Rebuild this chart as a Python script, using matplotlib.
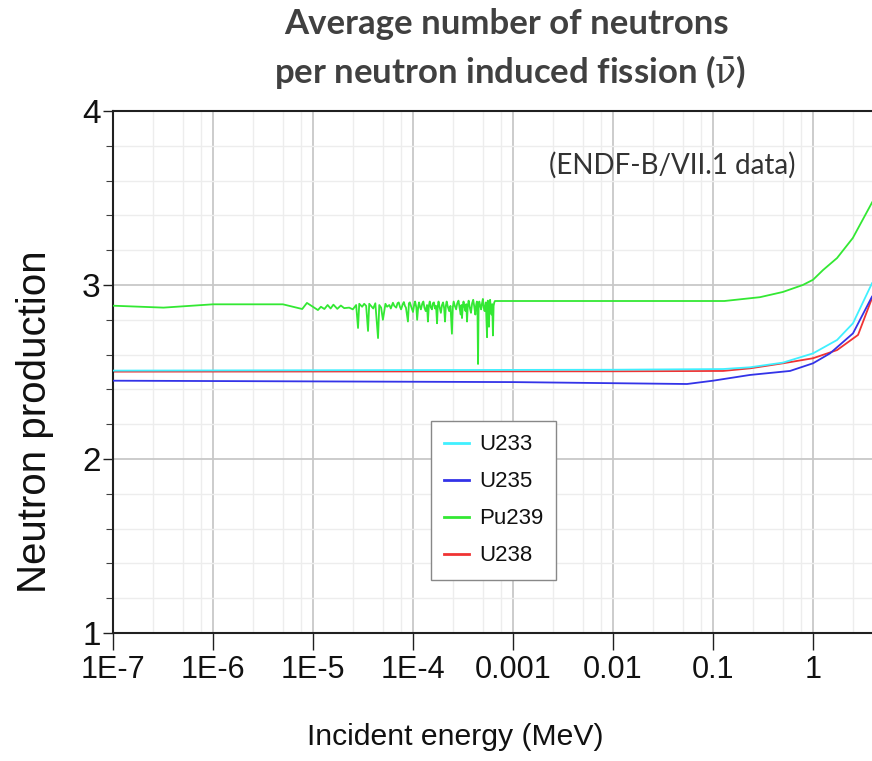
import matplotlib
matplotlib.use("Agg")
import matplotlib.pyplot as plt
from matplotlib.ticker import FixedLocator, FixedFormatter, NullFormatter

plt.rcParams['mathtext.fontset'] = 'custom'
plt.rcParams['mathtext.rm'] = 'DejaVu Serif'
plt.rcParams['mathtext.it'] = 'DejaVu Serif'

# ---------------- data ----------------
u233_E = [1e-7, 1e-2, 0.126, 0.234, 0.501, 1.0, 1.74, 2.51, 3.89]
u233_v = [2.508, 2.513, 2.517, 2.527, 2.554, 2.607, 2.684, 2.780, 3.010]

u235_E = [1e-7, 1e-3, 0.055, 0.100, 0.234, 0.589, 1.0, 1.48, 2.51, 3.89]
u235_v = [2.450, 2.442, 2.431, 2.450, 2.483, 2.506, 2.550, 2.607, 2.722, 2.933]

u238_E = [1e-7, 1e-2, 0.126, 0.234, 0.501, 1.0, 1.74, 2.82, 3.89]
u238_v = [2.502, 2.504, 2.506, 2.521, 2.550, 2.579, 2.626, 2.713, 2.924]

pu239_E = [1e-7, 3.2e-7, 1e-6, 5e-6, 7.8e-6, 8.7e-6, 1.12e-5, 1.2e-5, 1.3e-5,
           1.4e-5, 1.5e-5, 1.6e-5, 1.75e-5, 1.9e-5, 2.05e-5, 2.3e-5, 2.5e-5,
           2.7e-5, 2.82e-5, 2.9e-5, 3.1e-5, 3.25e-5, 3.4e-5, 3.55e-5, 3.65e-5,
           3.8e-5, 4.0e-5, 4.2e-5, 4.47e-5, 4.6e-5, 4.8e-5, 5.0e-5, 5.3e-5,
           5.5e-5, 5.8e-5, 6.0e-5, 6.3e-5, 6.5e-5, 6.8e-5, 7.0e-5, 7.2e-5,
           7.4e-5, 7.6e-5, 7.9e-5, 8.1e-5, 8.3e-5, 8.5e-5, 8.9e-5, 9.1e-5,
           9.3e-5, 9.6e-5, 1.0e-4, 1.03e-4, 1.05e-4, 1.08e-4, 1.1e-4, 1.13e-4,
           1.15e-4, 1.18e-4, 1.2e-4, 1.24e-4, 1.27e-4, 1.3e-4, 1.34e-4, 1.38e-4,
           1.41e-4, 1.44e-4, 1.47e-4, 1.51e-4, 1.55e-4, 1.58e-4, 1.62e-4, 1.66e-4,
           1.7e-4, 1.74e-4, 1.77e-4, 1.8e-4, 1.85e-4, 1.9e-4, 1.95e-4, 2.0e-4,
           2.05e-4, 2.09e-4, 2.13e-4, 2.17e-4, 2.23e-4, 2.3e-4, 2.37e-4, 2.45e-4,
           2.5e-4, 2.55e-4, 2.62e-4, 2.7e-4, 2.77e-4, 2.85e-4, 2.92e-4, 3.0e-4,
           3.05e-4, 3.09e-4, 3.15e-4, 3.2e-4, 3.27e-4, 3.35e-4, 3.41e-4, 3.47e-4,
           3.53e-4, 3.6e-4, 3.7e-4, 3.8e-4, 3.9e-4, 4.0e-4, 4.1e-4, 4.2e-4,
           4.28e-4, 4.35e-4, 4.41e-4, 4.47e-4, 4.53e-4, 4.6e-4, 4.7e-4, 4.8e-4,
           4.9e-4, 5.0e-4, 5.1e-4, 5.2e-4, 5.35e-4, 5.5e-4, 5.55e-4, 5.6e-4,
           5.68e-4, 5.75e-4, 5.82e-4, 5.9e-4, 6.0e-4, 6.1e-4, 6.2e-4, 6.3e-4,
           6.4e-4, 6.5e-4, 6.6e-4, 1e-3, 1e-2, 0.13, 0.295, 0.5, 0.79, 1.0, 1.26,
           1.74, 2.5, 3.9]
pu239_v = [2.881, 2.870, 2.889, 2.889, 2.862, 2.897, 2.856, 2.875, 2.862,
           2.885, 2.865, 2.887, 2.863, 2.882, 2.867, 2.870, 2.860,
           2.885, 2.753, 2.892, 2.875, 2.892, 2.880, 2.736, 2.892,
           2.880, 2.865, 2.895, 2.695, 2.885, 2.870, 2.800, 2.892,
           2.875, 2.885, 2.865, 2.898, 2.880, 2.870, 2.895, 2.900,
           2.875, 2.860, 2.890, 2.902, 2.880, 2.870, 2.790, 2.895,
           2.900, 2.875, 2.845, 2.890, 2.905, 2.870, 2.800, 2.880,
           2.900, 2.870, 2.860, 2.895, 2.905, 2.870, 2.850, 2.885,
           2.790, 2.880, 2.905, 2.870, 2.860, 2.895, 2.900, 2.865,
           2.880, 2.780, 2.880, 2.905, 2.870, 2.840, 2.885, 2.900,
           2.865, 2.790, 2.880, 2.905, 2.875, 2.850, 2.880, 2.720,
           2.870, 2.905, 2.880, 2.860, 2.895, 2.910, 2.870, 2.830,
           2.885, 2.810, 2.880, 2.905, 2.875, 2.850, 2.890, 2.790,
           2.880, 2.910, 2.870, 2.840, 2.895, 2.915, 2.875, 2.830,
           2.885, 2.905, 2.870, 2.546, 2.880, 2.905, 2.880, 2.860,
           2.895, 2.920, 2.870, 2.850, 2.900, 2.700, 2.880, 2.910,
           2.850, 2.760, 2.880, 2.915, 2.870, 2.830, 2.890, 2.710,
           2.880, 2.900, 2.908, 2.908, 2.908, 2.908, 2.930, 2.960, 3.000, 3.030,
           3.086, 3.155, 3.270, 3.475]

series_names = ['U233', 'U235', 'Pu239', 'U238']
series_colors = ['#40F0FF', '#3333E8', '#33E833', '#F03333']

x_ticks = [1e-7, 1e-6, 1e-5, 1e-4, 1e-3, 1e-2, 1e-1, 1]
x_ticklabels = ['1E-7', '1E-6', '1E-5', '1E-4', '0.001', '0.01', '0.1', '1']
y_ticks = [1, 2, 3, 4]
y_ticklabels = ['1', '2', '3', '4']

# ---------------- figure ----------------
W, H = 872, 761
fig = plt.figure(figsize=(W / 100, H / 100), dpi=100)
ax = fig.add_axes([113 / W, 1 - 633 / H, (872 - 113) / W, (633 - 111) / H])

sans = ['Liberation Sans', 'DejaVu Sans']
title_font = ['Lato', 'DejaVu Sans']

data = [(u233_E, u233_v), (u235_E, u235_v), (pu239_E, pu239_v), (u238_E, u238_v)]
zord = [3, 4, 5, 2]
for (E, v), name, col, z in zip(data, series_names, series_colors, zord):
    ax.plot(E, v, color=col, lw=1.3, label=name, zorder=z)

ax.set_xscale('log')
ax.set_xlim(1e-7, 3.89)
ax.set_ylim(1, 4)

ax.xaxis.set_major_locator(FixedLocator(x_ticks))
ax.xaxis.set_major_formatter(FixedFormatter(x_ticklabels))
minor_x = []
for d in range(-7, 1):
    for m in (2.5, 5, 7.5):
        minor_x.append(m * 10.0 ** d)
ax.xaxis.set_minor_locator(FixedLocator(minor_x))
ax.xaxis.set_minor_formatter(NullFormatter())

ax.yaxis.set_major_locator(FixedLocator(y_ticks))
ax.yaxis.set_major_formatter(FixedFormatter(y_ticklabels))
ax.yaxis.set_minor_locator(FixedLocator([1.2, 1.4, 1.6, 1.8, 2.2, 2.4, 2.6, 2.8,
                                         3.2, 3.4, 3.6, 3.8]))

ax.grid(which='major', color='#c8c8c8', lw=1.3)
ax.grid(which='minor', color='#ededed', lw=1.0)
ax.set_axisbelow(True)

for s in ('left', 'bottom', 'top'):
    ax.spines[s].set_color('#202020')
    ax.spines[s].set_linewidth(1.5)
ax.spines['right'].set_visible(False)

ax.tick_params(axis='x', which='major', direction='out', length=12, width=1.0,
               color='#202020', pad=4)
ax.tick_params(axis='x', which='minor', length=0)
ax.tick_params(axis='y', which='major', direction='out', length=7, width=1.0,
               color='#202020', pad=2)
ax.tick_params(axis='y', which='minor', direction='out', length=5, width=0.8,
               color='#404040')
for lab in ax.get_xticklabels():
    lab.set_fontfamily(sans)
    lab.set_fontsize(22)
    lab.set_color('#111111')
for lab in ax.get_yticklabels():
    lab.set_fontfamily(sans)
    lab.set_fontsize(24)
    lab.set_color('#111111')

# legend
leg = ax.legend(loc='upper left', bbox_to_anchor=((431 - 113) / 759, (633 - 421) / 522),
                borderaxespad=0, frameon=True, fancybox=False, shadow=False,
                prop={'family': sans, 'size': 16}, handlelength=1.1,
                handletextpad=0.45, labelspacing=0.72, borderpad=0.6)
leg.get_frame().set_edgecolor('#888888')
leg.get_frame().set_linewidth(1.0)
leg.get_frame().set_alpha(1)
for t in leg.get_texts():
    t.set_color('#111111')
for h in leg.get_lines():
    h.set_linewidth(2.0)

# texts
fig.text(506 / W, 1 - 24 / H, 'Average number of neutrons', ha='center', va='center',
         fontfamily=title_font, fontweight='bold', fontsize=25, color='#404040')
fig.text(510 / W, 1 - 72 / H, r'per neutron induced fission ($\bar{\nu}$)',
         ha='center', va='center', fontfamily=title_font, fontweight='bold',
         fontsize=25, color='#404040')
fig.text(672 / W, 1 - 165 / H, '(ENDF-B/VII.1 data)', ha='center', va='center',
         fontfamily=title_font, fontsize=20, color='#333333')
fig.text(35 / W, 1 - 422 / H, 'Neutron production', rotation=90, ha='center', va='center',
         fontfamily=sans, fontsize=29, color='#111111')
fig.text(455 / W, 1 - 737 / H, 'Incident energy (MeV)', ha='center', va='center',
         fontfamily=sans, fontsize=21.7, color='#111111')

fig.savefig('out.png', dpi=100)
